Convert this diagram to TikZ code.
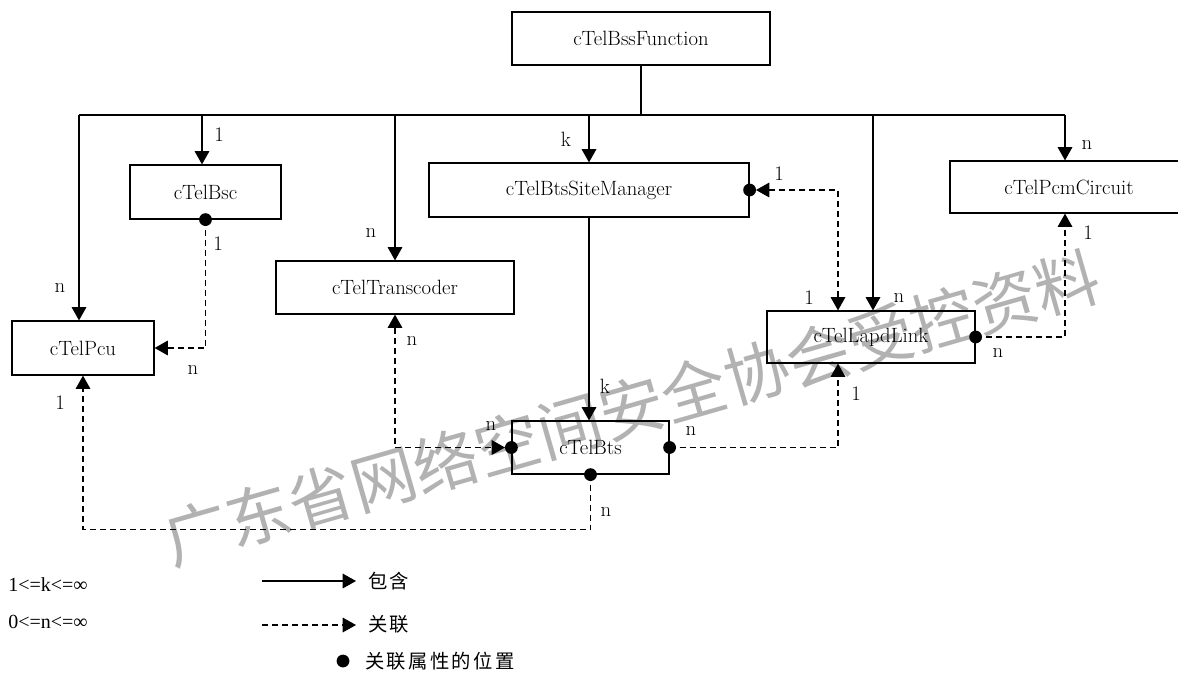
\documentclass[tikz,border=0pt]{standalone}
\usepackage{fontspec}
\newfontfamily\cjk[LetterSpace=12]{Noto Sans CJK SC}
\newfontfamily\wmfont{Noto Sans CJK SC}
\newfontfamily\legfont{Liberation Serif}
\usetikzlibrary{arrows.meta}
\begin{document}
\begin{tikzpicture}[x=0.75pt,y=-0.75pt,
  box/.style={draw, line width=0.9pt, inner sep=0pt, font=\fontsize{15.5}{18}\selectfont},
  lab/.style={inner sep=0pt, font=\fontsize{15.5}{18}\selectfont},
  line/.style={line width=0.9pt},
  contain/.style={line width=0.9pt, -{Triangle[length=10pt,width=11pt]}},
  assoc/.style={line width=0.9pt, dash pattern=on 4.5pt off 3pt, -{Triangle[length=10pt,width=11pt]}},
  assoc2/.style={line width=0.9pt, dash pattern=on 4.5pt off 3pt, {Triangle[length=10pt,width=11pt]}-{Triangle[length=10pt,width=11pt]}},
  leg/.style={inner sep=0pt, anchor=west, font=\legfont\fontsize{15}{17}\selectfont},
  cjklab/.style={inner sep=0pt, anchor=west, font=\cjk\fontsize{14.5}{17}\selectfont}
]
\useasboundingbox (0,0) rectangle (1178,675);
\fill[white] (0,0) rectangle (1178,675);

% watermark
\node[text=black!30, rotate=16, inner sep=0pt, font=\wmfont\fontsize{48.5}{52}\selectfont] (wm) at (632,408) {广东省网络空间安全协会受控资料};

% boxes
\node[box, minimum width=193.5pt, minimum height=39.75pt] (bss) at (641,38.5) {cTelBssFunction};
\node[box, minimum width=113.25pt, minimum height=40.5pt] (bsc) at (205.5,192) {cTelBsc};
\node[box, minimum width=240pt, minimum height=40.5pt] (bsm) at (589,190) {cTelBtsSiteManager};
\node[box, minimum width=178.5pt, minimum height=39pt] (pcm) at (1069,187) {cTelPcmCircuit};
\node[box, minimum width=178.5pt, minimum height=39.75pt] (trans) at (395,287.5) {cTelTranscoder};
\node[box, minimum width=106.5pt, minimum height=40.5pt] (pcu) at (83,348) {cTelPcu};
\node[box, minimum width=156pt, minimum height=39pt] (lapd) at (871,337) {cTelLapdLink};
\node[box, minimum width=117.75pt, minimum height=39.75pt] (bts) at (590.5,447.5) {cTelBts};

% bus
\coordinate (busL) at (79,115);
\coordinate (busR) at (1065,115);
\coordinate (xbsc) at (202,115);
\coordinate (xlapd) at (873,115);
\coordinate (xd) at (838,0);
\coordinate (xp) at (1065,0);
\draw[line] (bss.south) -- (bss.south |- busL);
\draw[line] (busL) -- (busR);
\draw[contain] (busL) -- (busL |- pcu.north);
\draw[contain] (xbsc) -- (xbsc |- bsc.north);
\draw[contain] (trans.north |- busL) -- (trans.north);
\draw[contain] (bsm.north |- busL) -- (bsm.north);
\draw[contain] (xlapd) -- (xlapd |- lapd.north);
\draw[contain] (busR) -- (busR |- pcm.north);
\draw[contain] (bsm.south) -- (bsm.south |- bts.north);

% associations
\draw[assoc] (bsc.south) |- (pcu.east);
\draw[assoc] (bts.south) -- ++(0,55) -| (pcu.south);
\draw[assoc2, shorten >=4.8pt] (trans.south) |- (bts.west);
\draw[assoc] (bts.east) -| (xd |- lapd.south);
\draw[assoc2, shorten <=4.8pt] (bsm.east) -| (xd |- lapd.north);
\draw[assoc] (lapd.east) -| (xp |- pcm.south);

% dots
\fill (bsc.south) circle[radius=4.8pt];
\fill (bts.south) circle[radius=4.8pt];
\fill (bts.west) circle[radius=4.8pt];
\fill (bts.east) circle[radius=4.8pt];
\fill (bsm.east) circle[radius=4.8pt];
\fill (lapd.east) circle[radius=4.8pt];

% multiplicity labels
\node[lab] (m1) at (219,135) {1};
\node[lab] (m2) at (566,139) {k};
\node[lab] (m3) at (371,233) {n};
\node[lab] (m4) at (60,288) {n};
\node[lab] (m5) at (1087,145) {n};
\node[lab] (m6) at (779,174) {1};
\node[lab] (m7) at (218,244) {1};
\node[lab] (m8) at (193,370) {n};
\node[lab] (m9) at (809,298) {1};
\node[lab] (m10) at (899,298) {n};
\node[lab] (m11) at (998,353) {n};
\node[lab] (m12) at (1088,233) {1};
\node[lab] (m13) at (412,341) {n};
\node[lab] (m14) at (605,386) {k};
\node[lab] (m15) at (491,426) {n};
\node[lab] (m16) at (691,431) {n};
\node[lab] (m17) at (856,394) {1};
\node[lab] (m18) at (606,512) {n};
\node[lab] (m19) at (60,403) {1};

% legend
\node[leg] (k1) at (8,585) {1<=k<=∞};
\node[leg] (n1) at (8,622) {0<=n<=∞};
\coordinate (ls1) at (262,581);
\coordinate (le1) at (356,581);
\coordinate (ls2) at (262,625);
\coordinate (le2) at (356,625);
\draw[contain] (ls1) -- (le1);
\draw[assoc] (ls2) -- (le2);
\node[cjklab] (t1) at (368,581) {包含};
\node[cjklab] (t2) at (368,624) {关联};
\fill (343,661) circle[radius=4.8pt];
\node[cjklab] (t3) at (365,661) {关联属性的位置};
\end{tikzpicture}
\end{document}
